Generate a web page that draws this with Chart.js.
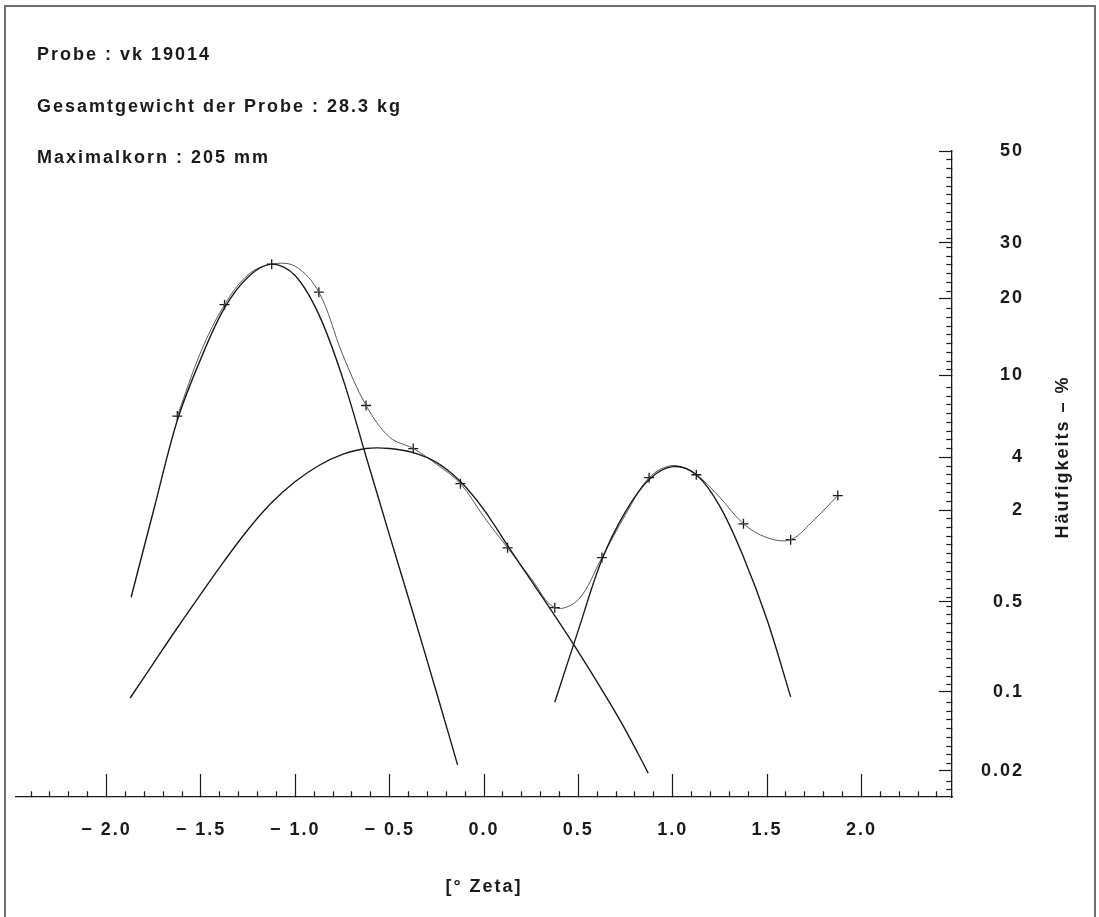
<!DOCTYPE html>
<html>
<head>
<meta charset="utf-8">
<title>Probe vk 19014</title>
<script src="https://cdn.jsdelivr.net/npm/chart.js@4/dist/chart.umd.min.js"></script>
<style>
  body { margin: 0; background: #fff; }
  #wrap { position: relative; width: 1099px; height: 917px; overflow: hidden; }
  #frame { position: absolute; left: 4px; top: 5px; width: 1088px; height: 960px; border: 2px solid #707070; pointer-events: none; }
</style>
</head>
<body>
<div id="wrap">
  <canvas id="myChart" width="1099" height="917"></canvas>
  <div id="frame"></div>
</div>
<script>
var infoLines = ['Probe : vk 19014', 'Gesamtgewicht der Probe : 28.3 kg', 'Maximalkorn : 205 mm'];
var xTitle = '[\u00b0 Zeta]';
var yTitle = 'H\u00e4ufigkeits \u2013 %';

var xMajorTicks = [-2, -1.5, -1, -0.5, 0, 0.5, 1, 1.5, 2];
var xTickLabels = ['\u2212 2.0', '\u2212 1.5', '\u2212 1.0', '\u2212 0.5', '0.0', '0.5', '1.0', '1.5', '2.0'];
var yTickValues = [50, 30, 20, 10, 4, 2, 0.5, 0.1, 0.02];
var yTickLabels = ['50', '30', '20', '10', '4', '2', '0.5', '0.1', '0.02'];

// gemessene Punkte (+)
var messZeta = [-1.625, -1.375, -1.125, -0.875, -0.625, -0.375, -0.125, 0.125, 0.375, 0.625, 0.875, 1.125, 1.375, 1.625, 1.875];
var messProzent = [6.5, 19.0, 25.9, 21.0, 7.3, 4.46, 2.87, 1.17, 0.454, 1.01, 3.10, 3.22, 1.66, 1.32, 2.45];

// Summenkurve durch die Messpunkte
var summeZeta = [-1.625, -1.5, -1.375, -1.25, -1.125, -1.0, -0.875, -0.75, -0.625, -0.5, -0.375, -0.25, -0.125, 0, 0.125, 0.25, 0.375, 0.5, 0.625, 0.75, 0.875, 1.0, 1.125, 1.25, 1.375, 1.5, 1.625, 1.75, 1.875];
var summeProzent = [6.5, 12.6, 19.0, 24.0, 25.9, 25.5, 21.0, 12.3, 7.3, 5.1, 4.46, 3.67, 2.87, 1.83, 1.17, 0.73, 0.454, 0.52, 1.01, 1.89, 3.10, 3.62, 3.22, 2.39, 1.66, 1.36, 1.32, 1.76, 2.45];

// Komponenten
var kompAZeta = [-1.87, -1.75, -1.625, -1.5, -1.375, -1.25, -1.125, -1.0, -0.875, -0.75, -0.625, -0.5, -0.375, -0.25, -0.14];
var kompAProzent = [0.54, 2.02, 6.2, 11.8, 18.5, 23.6, 25.9, 23.8, 17.5, 9.8, 4.05, 1.40, 0.41, 0.097, 0.0227];
var kompBZeta = [-1.875, -1.75, -1.625, -1.5, -1.375, -1.25, -1.125, -1.0, -0.875, -0.75, -0.625, -0.5, -0.375, -0.25, -0.125, 0, 0.125, 0.25, 0.375, 0.5, 0.625, 0.75, 0.87];
var kompBProzent = [0.089, 0.173, 0.323, 0.570, 0.964, 1.53, 2.23, 2.95, 3.62, 4.15, 4.46, 4.46, 4.24, 3.75, 2.95, 2.02, 1.21, 0.705, 0.397, 0.211, 0.104, 0.047, 0.019];
var kompCZeta = [0.375, 0.5, 0.625, 0.75, 0.875, 1.0, 1.125, 1.25, 1.375, 1.5, 1.625];
var kompCProzent = [0.082, 0.31, 0.98, 1.97, 3.03, 3.57, 3.22, 2.12, 1.02, 0.37, 0.091];

var FONT = '"Liberation Sans", Arial, Helvetica, sans-serif';
var INK = '#1a1a1a';

function punkte(xs, ys) {
    return xs.map(function (x, i) { return {x: x, y: ys[i]}; });
}

// inverse Normalverteilung (Acklam)
function normInv(p) {
    var a = [-3.969683028665376e+01, 2.209460984245205e+02, -2.759285104469687e+02, 1.383577518672690e+02, -3.066479806614716e+01, 2.506628277459239e+00];
    var b = [-5.447609879822406e+01, 1.615858368580409e+02, -1.556989798598866e+02, 6.680131188771972e+01, -1.328068155288572e+01];
    var c = [-7.784894002430293e-03, -3.223964580411365e-01, -2.400758277161838e+00, -2.549732539343734e+00, 4.374664141464968e+00, 2.938163982698783e+00];
    var d = [7.784695709041462e-03, 3.224671290700398e-01, 2.445134137142996e+00, 3.754408661907416e+00];
    var plow = 0.02425, q, r;
    if (p < plow) {
        q = Math.sqrt(-2 * Math.log(p));
        return (((((c[0]*q+c[1])*q+c[2])*q+c[3])*q+c[4])*q+c[5]) / ((((d[0]*q+d[1])*q+d[2])*q+d[3])*q+1);
    }
    if (p <= 1 - plow) {
        q = p - 0.5; r = q * q;
        return (((((a[0]*r+a[1])*r+a[2])*r+a[3])*r+a[4])*r+a[5])*q / (((((b[0]*r+b[1])*r+b[2])*r+b[3])*r+b[4])*r+1);
    }
    q = Math.sqrt(-2 * Math.log(1 - p));
    return -(((((c[0]*q+c[1])*q+c[2])*q+c[3])*q+c[4])*q+c[5]) / ((((d[0]*q+d[1])*q+d[2])*q+d[3])*q+1);
}
function normCdf(z) {
    var t = 1 / (1 + 0.3275911 * Math.abs(z) / Math.SQRT2);
    var e = 1 - (((((1.061405429*t - 1.453152027)*t) + 1.421413741)*t - 0.284496736)*t + 0.254829592)*t*Math.exp(-z*z/2);
    return z >= 0 ? (1 + e) / 2 : (1 - e) / 2;
}

function istMajor(list, v) {
    for (var i = 0; i < list.length; i++) {
        if (Math.abs(list[i] - v) < 1e-6) return i;
    }
    return -1;
}

// Wahrscheinlichkeitsachse (Probit)
class ProbitScale extends Chart.Scale {
    determineDataLimits() {
        this.min = this.options.min;
        this.max = this.options.max;
    }
    buildTicks() {
        var ticks = yTickValues.map(function (v) { return {value: v}; });
        var lo = -normInv(this.min / 100);
        for (var k = 1; k * 0.05 < lo; k++) {
            var v = 100 * normCdf(-k * 0.05);
            var near = yTickValues.some(function (m) { return Math.abs(normInv(m / 100) + k * 0.05) < 0.02; });
            if (!near) ticks.push({value: v});
        }
        return ticks;
    }
    getLabelForValue(value) {
        return String(value);
    }
    getPixelForValue(value) {
        var lo = normInv(this.min / 100), hi = normInv(this.max / 100);
        return this.getPixelForDecimal((normInv(value / 100) - lo) / (hi - lo));
    }
    getValueForPixel(pixel) {
        var lo = normInv(this.min / 100), hi = normInv(this.max / 100);
        return 100 * normCdf(lo + this.getDecimalForPixel(pixel) * (hi - lo));
    }
}
ProbitScale.id = 'probit';
ProbitScale.defaults = {};
Chart.register(ProbitScale);

var xTicks = [];
for (var i = -24; i <= 24; i++) xTicks.push(i / 10);

var textPlugin = {
    id: 'texte',
    beforeUpdate: function (chart) { chart.ctx.letterSpacing = '2px'; },
    beforeDraw: function (chart) { chart.ctx.letterSpacing = '2px'; },
    afterDraw: function (chart) {
        var ctx = chart.ctx;
        ctx.save();
        ctx.font = 'bold 18px ' + FONT;
        ctx.fillStyle = INK;
        ctx.textAlign = 'left';
        ctx.textBaseline = 'alphabetic';
        infoLines.forEach(function (t, i) { ctx.fillText(t, 37, 60 + i * 51.5); });
        ctx.translate(1063, 457);
        ctx.rotate(-Math.PI / 2);
        ctx.textAlign = 'center';
        ctx.textBaseline = 'middle';
        ctx.fillText(yTitle, 0, 0);
        ctx.restore();
    }
};

function linie(data, farbe, breite) {
    return {
        data: data,
        borderColor: farbe,
        borderWidth: breite,
        pointRadius: 0,
        fill: false,
        tension: 0.35
    };
}

var ctx = document.getElementById('myChart');
var chart = new Chart(ctx, {
    type: 'line',
    data: {
        datasets: [
            linie(punkte(kompAZeta, kompAProzent), INK, 1.4),
            linie(punkte(kompBZeta, kompBProzent), INK, 1.4),
            linie(punkte(kompCZeta, kompCProzent), INK, 1.4),
            linie(punkte(summeZeta, summeProzent), '#5a5a5a', 1),
            {
                data: punkte(messZeta, messProzent),
                showLine: false,
                pointStyle: 'cross',
                pointRadius: 5,
                pointBorderWidth: 1.3,
                pointBorderColor: INK,
                pointBackgroundColor: INK
            }
        ]
    },
    options: {
        responsive: false,
        animation: false,
        events: [],
        layout: { padding: { left: 16, top: 151, right: 75, bottom: 0 } },
        plugins: { legend: { display: false }, tooltip: { enabled: false } },
        scales: {
            x: {
                type: 'linear',
                min: -2.48,
                max: 2.48,
                border: { color: INK, width: 1.3 },
                grid: {
                    drawOnChartArea: false,
                    color: INK,
                    tickLength: -23,
                    tickWidth: 1.2,
                    tickBorderDash: function (c) { return istMajor(xMajorTicks, c.tick.value) >= 0 ? [] : [6, 60]; }
                },
                ticks: {
                    autoSkip: false,
                    maxRotation: 0,
                    padding: 45,
                    color: INK,
                    font: { family: FONT, size: 18, weight: 'bold', lineHeight: 1.2 },
                    callback: function (v) {
                        var k = istMajor(xMajorTicks, v);
                        return k >= 0 ? xTickLabels[k] : '';
                    }
                },
                title: {
                    display: true,
                    text: xTitle,
                    color: INK,
                    font: { family: FONT, size: 18, weight: 'bold', lineHeight: 1.2 },
                    padding: { top: 0, bottom: 19 }
                },
                afterBuildTicks: function (s) { s.ticks = xTicks.map(function (v) { return {value: v}; }); },
                afterFit: function (s) { s.height = 120; s.paddingLeft = 0; s.paddingRight = 0; }
            },
            y: {
                type: 'probit',
                position: 'right',
                min: 0.0112,
                max: 50,
                border: { color: INK, width: 1.3 },
                grid: {
                    drawOnChartArea: false,
                    color: INK,
                    tickLength: -13,
                    tickWidth: 1.2,
                    tickBorderDash: function (c) { return istMajor(yTickValues, c.tick.value) >= 0 ? [] : [6, 40]; }
                },
                ticks: {
                    autoSkip: false,
                    crossAlign: 'far',
                    padding: 20,
                    color: INK,
                    font: { family: FONT, size: 18, weight: 'bold' },
                    callback: function (v) {
                        var k = istMajor(yTickValues, v);
                        return k >= 0 ? yTickLabels[k] : '';
                    }
                },
                afterFit: function (s) { s.width = 72; s.paddingTop = 0; s.paddingBottom = 0; }
            }
        }
    },
    plugins: [textPlugin]
});
</script>
</body>
</html>
